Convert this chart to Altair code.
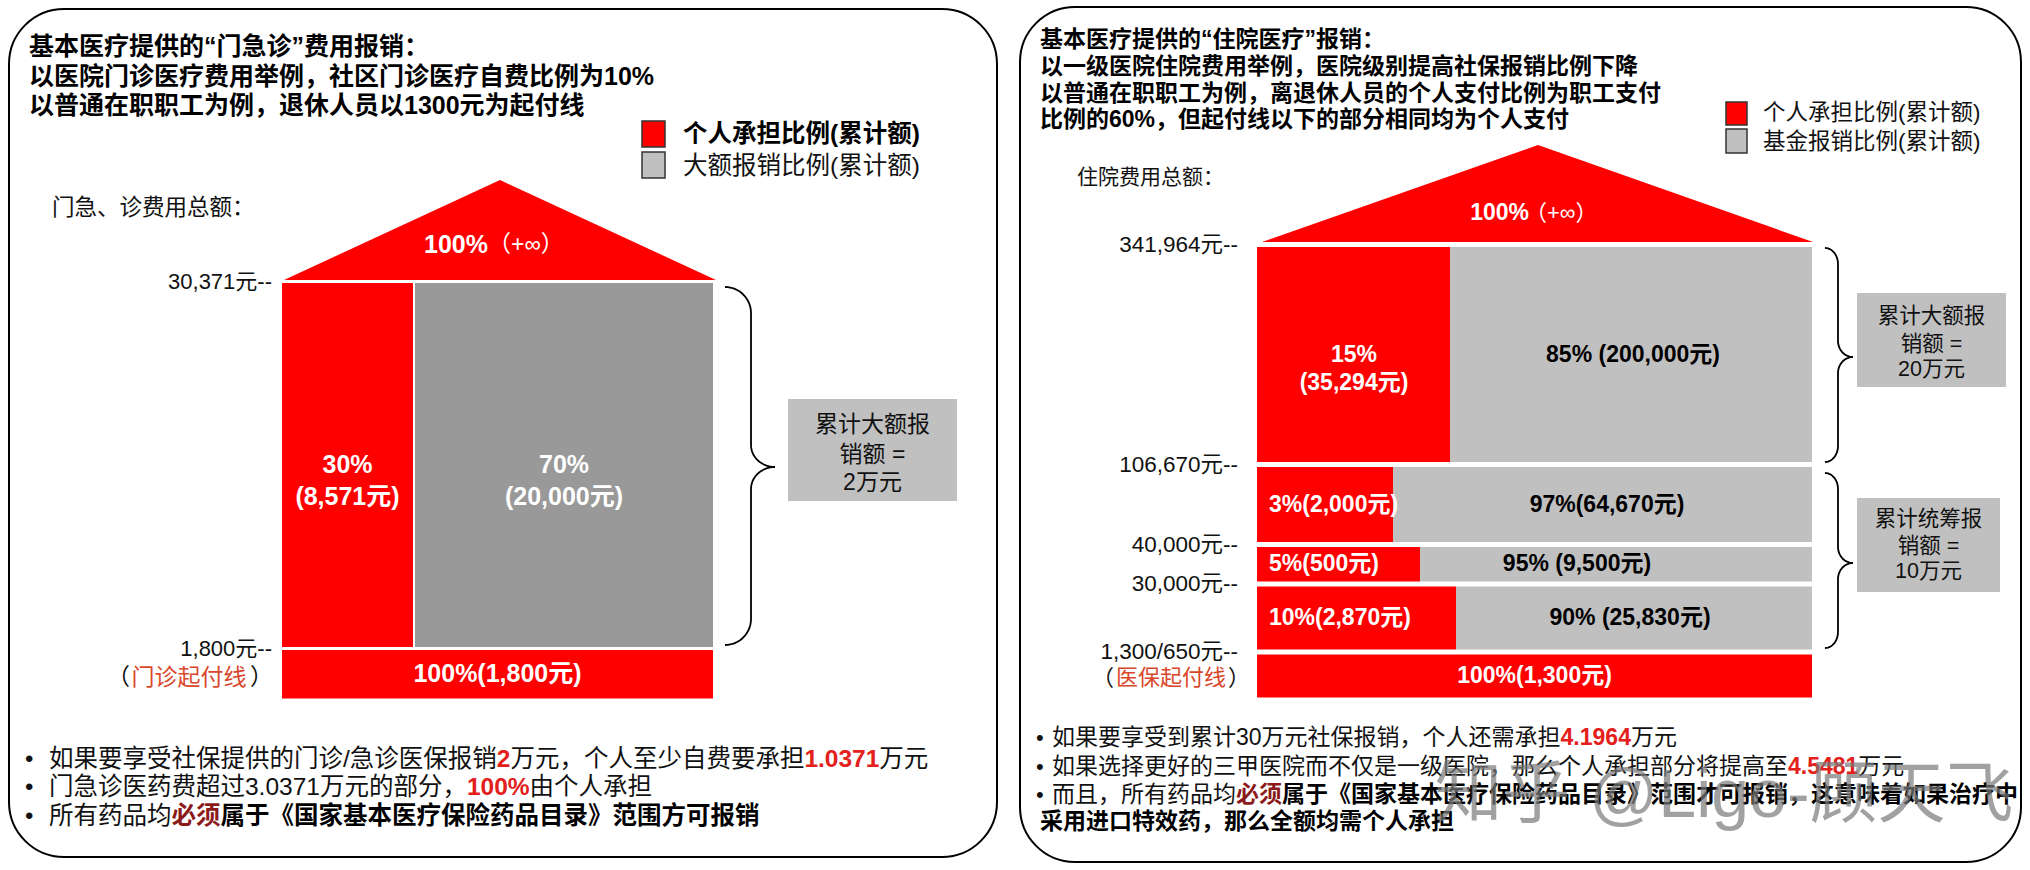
import altair as alt
import pandas as pd
import numpy as np

W, H = 2030, 870
FONT = "'Liberation Sans', 'Noto Sans CJK SC', sans-serif"
RED = "#FF0000"
GRAY_DARK = "#999999"
GRAY = "#C0C0C0"
TXT = "#111111"
HOT = "#E3201B"
MAROON = "#8B1A1A"
NOTE = "#D9472B"

# ---------------- data ----------------
# 门急诊 (outpatient / emergency)
op_bounds = [0, 1800, 30371]
op_tick_labels = ["1,800元--", "30,371元--"]
op_personal_share = ["100%", "30%"]
op_personal_amount = [1800, 8571]
op_fund_share = [None, "70%"]
op_fund_amount = [None, 20000]
op_box = ["累计大额报", "销额 =", "2万元"]

# 住院 (inpatient)
ip_bounds = [0, 1300, 30000, 40000, 106670, 341964]
ip_tick_labels = ["1,300/650元--", "30,000元--", "40,000元--", "106,670元--", "341,964元--"]
ip_personal_share = ["100%", "10%", "5%", "3%", "15%"]
ip_personal_amount = [1300, 2870, 500, 2000, 35294]
ip_fund_share = [None, "90%", "95%", "97%", "85%"]
ip_fund_amount = [None, 25830, 9500, 64670, 200000]
ip_fund_sep = [None, " ", " ", "", " "]
ip_box1 = ["累计大额报", "销额 =", "20万元"]
ip_box2 = ["累计统筹报", "销额 =", "10万元"]

# ---------------- layout (schematic, not to scale) ----------------
op_bound_px = [700, 648.5, 281.5]
ip_bound_px = [700, 652, 584, 544.5, 464.5, 244.5]
op_house_x = (282, 713)
op_split_px = [None, 413]
op_red_text_x = [497.5, 347.5]
op_fund_text_x = [None, 564]
ip_house_x = (1257, 1812)
ip_split_px = [None, 1456, 1420, 1393, 1450]
ip_red_text_x = [1534.5, 1269, 1269, 1269, 1354]
ip_red_align = ["center", "left", "left", "left", "center"]
ip_fund_text_x = [None, 1630, 1577, 1607, 1633]

PX = alt.Scale(domain=[0, W], range=[0, W], nice=False, zero=False)
PY = alt.Scale(domain=[0, H], range=[0, H], nice=False, zero=False)
OPY = alt.Scale(domain=op_bounds, range=op_bound_px, nice=False, zero=False)
IPY = alt.Scale(domain=ip_bounds, range=ip_bound_px, nice=False, zero=False)


def X(f):
    return alt.X(f, type="quantitative", scale=PX, axis=None)


def Y(f, s):
    return alt.Y(f, type="quantitative", scale=s, axis=None)


def rect_layer(df, yscale, **mk):
    return alt.Chart(df).mark_rect(**mk).encode(
        x=X("x0"), x2=alt.X2("x1"), y=Y("y0", yscale), y2=alt.Y2("y1"),
        color=alt.Color("fill:N", scale=None))


def text_layer(df, yscale, align="left", weight="normal", **mk):
    return alt.Chart(df).mark_text(align=align, baseline="middle", font=FONT,
                                   fontWeight=weight, **mk).encode(
        x=X("x"), y=Y("y", yscale), text="text:N",
        color=alt.Color("color:N", scale=None),
        size=alt.Size("size:Q", scale=None))


def char_w(ch):
    if ord(ch) >= 0x2E80:
        return 1.0
    if ch.isdigit():
        return 0.556
    return {".": 0.278, ",": 0.278, "%": 0.889, "/": 0.278, " ": 0.278,
            "(": 0.333, ")": 0.333, "-": 0.333}.get(ch, 0.556)


def text_w(s, size):
    return sum(char_w(c) for c in s) * size


layers = []

# panels
panels = pd.DataFrame({"x0": [9, 1020], "x1": [997, 2021], "y0": [9, 7], "y1": [857, 862],
                       "fill": ["white", "white"]})
layers.append(rect_layer(panels, PY, cornerRadius=55, stroke="black", strokeWidth=2))

# roofs
roof = pd.DataFrame({"x": [284, 500, 716, 1262, 1538, 1813],
                     "y": [280, 180, 280, 242, 145, 242],
                     "y2": [280, 280, 280, 242, 242, 242],
                     "g": ["L"] * 3 + ["R"] * 3})
layers.append(alt.Chart(roof).mark_area(color=RED).encode(
    x=X("x"), y=Y("y", PY), y2=alt.Y2("y2"), detail="g:N"))

# house bands (y from cost thresholds through the schematic scales)
op_rows, op_txt = [], []
for i in range(len(op_personal_share)):
    lo, hi = op_bounds[i], op_bounds[i + 1]
    mid = (lo + hi) / 2
    x0, x1 = op_house_x
    if op_fund_share[i] is None:
        op_rows.append(dict(x0=x0, x1=x1, y0=hi, y1=lo, fill=RED))
        op_txt.append(dict(x=op_red_text_x[i], y=mid, color="white", size=25,
                           text=f"{op_personal_share[i]}({op_personal_amount[i]:,}元)"))
    else:
        s = op_split_px[i]
        op_rows.append(dict(x0=x0, x1=s, y0=hi, y1=lo, fill=RED))
        op_rows.append(dict(x0=s + 2, x1=x1, y0=hi, y1=lo, fill=GRAY_DARK))
        op_txt.append(dict(x=op_red_text_x[i], y=mid, color="white", size=25,
                           text=f"{op_personal_share[i]}\n({op_personal_amount[i]:,}元)"))
        op_txt.append(dict(x=op_fund_text_x[i], y=mid, color="white", size=25,
                           text=f"{op_fund_share[i]}\n({op_fund_amount[i]:,}元)"))
layers.append(rect_layer(pd.DataFrame(op_rows), OPY, yOffset=1.5, y2Offset=-1.5))
layers.append(text_layer(pd.DataFrame(op_txt), OPY, align="center", weight="bold",
                         lineBreak="\n", lineHeight=32))

ip_rows, ip_txt_c, ip_txt_l = [], [], []
for i in range(len(ip_personal_share)):
    lo, hi = ip_bounds[i], ip_bounds[i + 1]
    mid = (lo + hi) / 2
    x0, x1 = ip_house_x
    if ip_fund_share[i] is None:
        ip_rows.append(dict(x0=x0, x1=x1, y0=hi, y1=lo, fill=RED))
        ip_txt_c.append(dict(x=ip_red_text_x[i], y=mid, color="white", size=23,
                             text=f"{ip_personal_share[i]}({ip_personal_amount[i]:,}元)"))
        continue
    s = ip_split_px[i]
    ip_rows.append(dict(x0=x0, x1=s, y0=hi, y1=lo, fill=RED))
    ip_rows.append(dict(x0=s, x1=x1, y0=hi, y1=lo, fill=GRAY))
    if ip_red_align[i] == "center":
        ip_txt_c.append(dict(x=ip_red_text_x[i], y=mid, color="white", size=23,
                             text=f"{ip_personal_share[i]}\n({ip_personal_amount[i]:,}元)"))
    else:
        ip_txt_l.append(dict(x=ip_red_text_x[i], y=mid, color="white", size=23,
                             text=f"{ip_personal_share[i]}({ip_personal_amount[i]:,}元)"))
    ip_txt_c.append(dict(x=ip_fund_text_x[i], y=mid, color="black", size=23,
                         text=f"{ip_fund_share[i]}{ip_fund_sep[i]}({ip_fund_amount[i]:,}元)"))
layers.append(rect_layer(pd.DataFrame(ip_rows), IPY, yOffset=2.5, y2Offset=-2.5))
layers.append(text_layer(pd.DataFrame(ip_txt_c), IPY, align="center", weight="bold",
                         lineBreak="\n", lineHeight=28))
layers.append(text_layer(pd.DataFrame(ip_txt_l), IPY, align="left", weight="bold"))

# threshold tick labels
op_ticks = pd.DataFrame({"x": 272, "y": op_bounds[1:], "text": op_tick_labels,
                         "color": TXT, "size": 22})
layers.append(text_layer(op_ticks, OPY, align="right"))
ip_ticks = pd.DataFrame({"x": 1238, "y": ip_bounds[1:], "text": ip_tick_labels,
                         "color": TXT, "size": 22.5})
layers.append(text_layer(ip_ticks, IPY, align="right"))

# legend squares & side boxes
legend_sq = pd.DataFrame({"x0": [642, 642, 1726, 1726], "x1": [665, 665, 1747, 1747],
                          "y0": [121, 152, 102, 129], "y1": [147, 178, 125, 153],
                          "fill": [RED, GRAY, RED, GRAY]})
layers.append(rect_layer(legend_sq, PY, stroke="#333333", strokeWidth=1.5))
boxes = pd.DataFrame({"x0": [788, 1857, 1857], "x1": [957, 2006, 2000],
                      "y0": [399, 293, 498], "y1": [501, 387, 592], "fill": GRAY})
layers.append(rect_layer(boxes, PY))


# braces
def brace(x0, x1, xt, ytop, ym, ybot, ry, ry2, n=14):
    r, r2 = x1 - x0, xt - x1
    t = np.linspace(0, np.pi / 2, n)
    pts = [(x0 + r * np.sin(a), ytop + ry - ry * np.cos(a)) for a in t]
    pts += [(xt - r2 * np.cos(a), ym - ry2 + ry2 * np.sin(a)) for a in t]
    pts += [(xt - r2 * np.cos(a), ym + ry2 - ry2 * np.sin(a)) for a in t[::-1]]
    pts += [(x0 + r * np.cos(a), ybot - ry + ry * np.sin(a)) for a in t]
    return pts


brace_rows = []
for bid, args in enumerate([(725, 751, 775, 287, 467, 645, 26, 22),
                            (1825, 1838, 1853, 248, 357, 462, 16, 16),
                            (1825, 1838, 1853, 473, 563, 648, 16, 16)]):
    for k, (bx, by) in enumerate(brace(*args)):
        brace_rows.append(dict(x=bx, y=by, b=bid, i=k))
layers.append(alt.Chart(pd.DataFrame(brace_rows)).mark_line(color="black", strokeWidth=1.8).encode(
    x=X("x"), y=Y("y", PY), detail="b:N", order="i:Q"))

# ---------------- texts in pixel space ----------------
T = []


def add(x, y, text, size, color=TXT, weight="normal", align="left"):
    T.append(dict(x=x, y=y, text=text, size=size, color=color, weight=weight, align=align))


def add_segments(x, y, segs, size):
    for text, color, weight in segs:
        add(x, y, text, size, color, weight)
        x += text_w(text, size)


left_title = ["基本医疗提供的“门急诊”费用报销：",
              "以医院门诊医疗费用举例，社区门诊医疗自费比例为10%",
              "以普通在职职工为例，退休人员以1300元为起付线"]
for yy, s in zip([47, 77, 106], left_title):
    add(29, yy, s, 25, "black", "bold")
right_title = ["基本医疗提供的“住院医疗”报销：",
               "以一级医院住院费用举例，医院级别提高社保报销比例下降",
               "以普通在职职工为例，离退休人员的个人支付比例为职工支付",
               "比例的60%，但起付线以下的部分相同均为个人支付"]
for yy, s in zip([40, 67, 94, 120], right_title):
    add(1040, yy, s, 23, "black", "bold")

add(683, 135, "个人承担比例(累计额)", 24.5, "black", "bold")
add(683, 167, "大额报销比例(累计额)", 24.5)
add(1763, 113, "个人承担比例(累计额)", 22.5)
add(1763, 142, "基金报销比例(累计额)", 22.5)

add(52, 208, "门急、诊费用总额：", 22.5)
add(1077, 178, "住院费用总额：", 21)

for yy, s in zip([425, 455, 483], op_box):
    add(872.5, yy, s, 23, align="center")
for yy, s in zip([317, 345, 370], ip_box1):
    add(1931.5, yy, s, 21.5, align="center")
for yy, s in zip([520, 547, 572], ip_box2):
    add(1928.5, yy, s, 21.5, align="center")

# roof labels
add(488, 245, "100%", 25, "white", "bold", "right")
add(488, 245, "（+∞）", 23, "white", "normal", "left")
add(1529, 213, "100%", 23, "white", "bold", "right")
add(1525, 213, "（+∞）", 22, "white", "normal", "left")

# deductible notes
add(189, 678, "门诊起付线", 23, NOTE, align="center")
add(130, 678, "（", 23, TXT, align="right")
add(250, 678, "）", 23, TXT, align="left")
add(1171, 678, "医保起付线", 22, NOTE, align="center")
add(1114, 678, "（", 22, TXT, align="right")
add(1228, 678, "）", 22, TXT, align="left")

# bullets
LB = 24.5
for yy in [760, 788, 817]:
    add(25, yy, "•", 24)
add_segments(49, 760, [("如果要享受社保提供的门诊/急诊医保报销", TXT, "normal"),
                       ("2", HOT, "bold"),
                       ("万元，个人至少自费要承担", TXT, "normal"),
                       ("1.0371", HOT, "bold"),
                       ("万元", TXT, "normal")], LB)
add_segments(49, 788, [("门急诊医药费超过3.0371万元的部分，", TXT, "normal"),
                       ("100%", HOT, "bold"),
                       ("由个人承担", TXT, "normal")], LB)
add_segments(49, 817, [("所有药品均", TXT, "normal"),
                       ("必须", MAROON, "bold"),
                       ("属于《国家基本医疗保险药品目录》范围方可报销", "black", "bold")], LB)

RB = 23
for yy in [738, 767, 795]:
    add(1036, yy, "•", 22)
add_segments(1052, 738, [("如果要享受到累计30万元社保报销，个人还需承担", TXT, "normal"),
                         ("4.1964", HOT, "bold"),
                         ("万元", TXT, "normal")], RB)
add_segments(1052, 767, [("如果选择更好的三甲医院而不仅是一级医院，那么个人承担部分将提高至", TXT, "normal"),
                         ("4.5481", HOT, "bold"),
                         ("万元", TXT, "normal")], RB)
add_segments(1052, 795, [("而且，所有药品均", TXT, "normal"),
                         ("必须", MAROON, "bold"),
                         ("属于《国家基本医疗保险药品目录》范围才可报销，这意味着如果治疗中", "black", "bold")], RB)
add_segments(1040, 822, [("采用进口特效药，那么全额均需个人承担", "black", "bold")], RB)

tdf = pd.DataFrame(T)
for (w, a), sub in tdf.groupby(["weight", "align"]):
    layers.append(text_layer(sub.drop(columns=["weight", "align"]).reset_index(drop=True),
                             PY, align=a, weight=w))

# watermark
wm = pd.DataFrame({"x": [1724], "y": [797], "text": ["知乎 @Ligo-顾天飞"], "color": ["#7a7a7a"], "size": [68]})
layers.append(text_layer(wm, PY, align="center", opacity=0.7))

chart = alt.layer(*layers).resolve_scale(y="independent").properties(
    width=W, height=H, padding=0, background="white",
    autosize=alt.AutoSizeParams(type="none")
).configure_view(stroke=None)

chart.save("out.html", embed_options={"renderer": "svg", "actions": False})
